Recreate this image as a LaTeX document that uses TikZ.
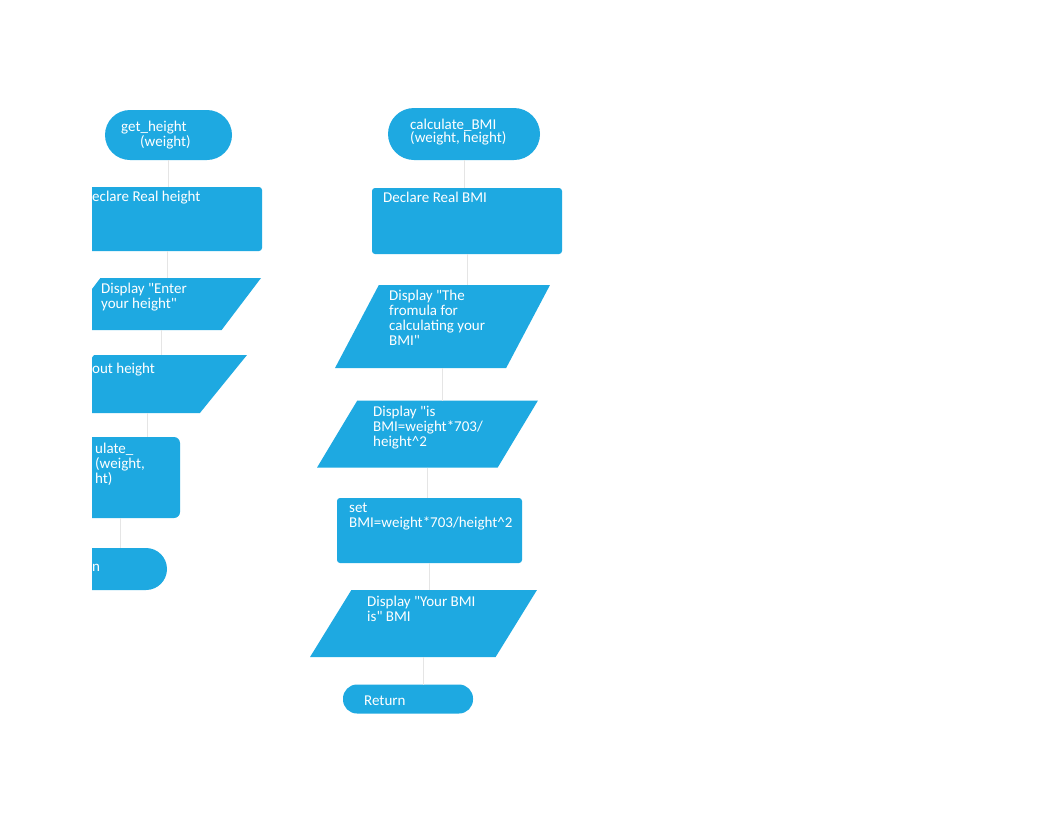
\documentclass[tikz,border=0pt]{standalone}
\usepackage{fontspec}
\setmainfont{Carlito}[Ligatures=TeXOff]
\usepackage{xcolor}
\usetikzlibrary{shapes.geometric,positioning}
\definecolor{boxblue}{RGB}{30,169,225}
\tikzset{
  termbox/.style={rectangle, fill=boxblue, rounded corners=#1, inner sep=0pt, outer sep=0pt},
  procbox/.style={rectangle, fill=boxblue, rounded corners=3pt, inner sep=0pt, outer sep=0pt},
  iobox/.style={trapezium, trapezium stretches=true, fill=boxblue, inner sep=2pt, outer sep=0pt},
  txt/.style={text=white, inner sep=0pt, anchor=north west, align=left,
    font=\fontsize{15}{15}\selectfont},
  link/.style={draw=black!10, line width=0.8pt},
}

\begin{document}
\begin{tikzpicture}[x=1pt, y=-1pt]
\useasboundingbox[fill=white] (0,0) rectangle (1062,822);
% left column, cut off at the left edge
\begin{scope}
\clip (92,0) rectangle (1062,822);
\node[termbox=25pt, minimum width=127pt, minimum height=50pt] (gh) at (168.5,135) {};
\node[procbox, minimum width=190pt, minimum height=64pt] (dh) at (167,219) {};
\node[iobox, trapezium left angle=72, trapezium right angle=108,
  minimum width=200pt, minimum height=52pt] (disp) at (161,304) {};
\node[iobox, trapezium left angle=66, trapezium right angle=114,
  minimum width=200pt, minimum height=58pt] (inp) at (147,384) {};
\node[termbox=6pt, minimum width=120pt, minimum height=81pt] (cal) at (120,477.5) {};
\node[termbox=21pt, minimum width=127pt, minimum height=42pt] (ret) at (103.5,569) {};
\end{scope}
\node[txt] (gtxt) at (121,121) {get\_height\\\hspace*{19pt}(weight)};
\node[txt] (dhtxt) at (92,191) {eclare Real height};
\node[txt] (disptxt) at (101,283) {Display "Enter\\your height"};
\node[txt] (inptxt) at (92,363) {out height};
\node[txt] (caltxt) at (95,443) {ulate\_\\(weight,\\ht)};
\node[txt] (rettxt) at (92,564) {n};
% right column
\node[termbox=26pt, minimum width=152pt, minimum height=52pt] (cb) at (464,134) {};
\node[procbox, minimum width=190pt, minimum height=66pt] (dbmi) at (467,221) {};
\node[iobox, trapezium left angle=71, trapezium right angle=109,
  minimum width=215pt, minimum height=83pt] (dform) at (442.5,326.5) {};
\node[iobox, trapezium left angle=74, trapezium right angle=106,
  minimum width=221pt, minimum height=67pt] (dis) at (427.5,434) {};
\node[procbox, minimum width=185pt, minimum height=65pt] (setb) at (429.5,530.5) {};
\node[iobox, trapezium left angle=74, trapezium right angle=106,
  minimum width=227pt, minimum height=67pt] (dyour) at (423.5,623.5) {};
\node[termbox=14pt, minimum width=130pt, minimum height=29pt] (rt) at (408,699) {};
\node[txt, font=\fontsize{15}{13}\selectfont] (cbtxt) at (410,119)
  {calculate\_BMI\\(weight, height)};
\node[txt] (dbmitxt) at (383,192) {Declare Real BMI};
\node[txt] (dformtxt) at (389,290)
  {Display "The\\fromula for\\calculating your\\BMI"};
\node[txt] (distxt) at (373,406)
  {Display "is\\BMI=weight*703/\\height\textasciicircum 2};
\node[txt] (setbtxt) at (349,503) {set\\BMI=weight*703/height\textasciicircum 2};
\node[txt] (dyourtxt) at (367,596) {Display "Your BMI\\is" BMI};
\node[txt] (rttxt) at (364,696) {Return};
% faint flow lines
\foreach \a/\b in {gh/dh, dh/disp, disp/inp, inp/cal, cal/ret,
  cb/dbmi, dbmi/dform, dform/dis, dis/setb, setb/dyour, dyour/rt}
  \draw[link] (\a.south) -- (\a.south |- \b.north);
\end{tikzpicture}
\end{document}
